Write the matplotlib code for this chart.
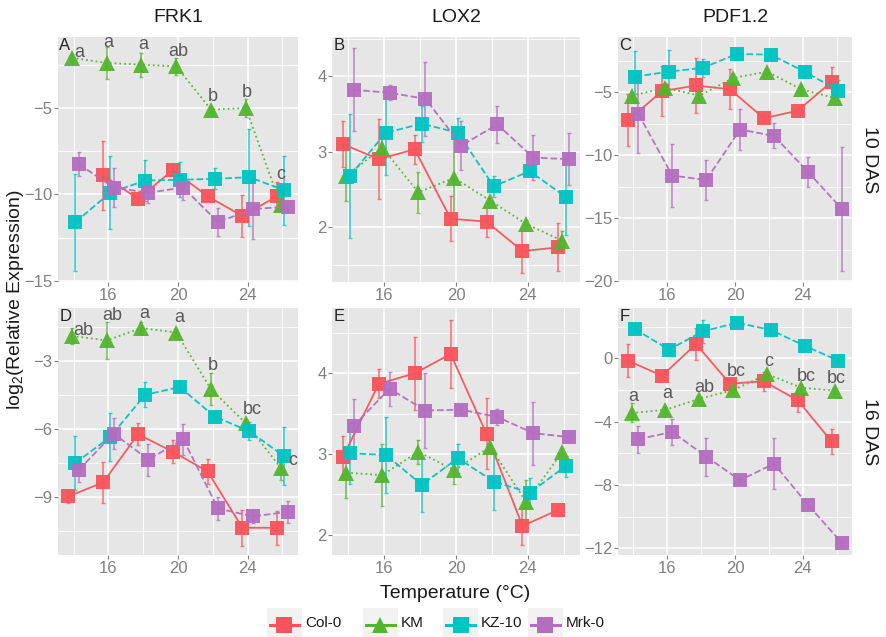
import numpy as np
import matplotlib
matplotlib.use("Agg")
import matplotlib.pyplot as plt
from matplotlib.lines import Line2D
from matplotlib.patches import Rectangle

plt.rcParams["font.family"] = ["Liberation Sans", "DejaVu Sans"]
plt.rcParams["mathtext.fontset"] = "custom"
plt.rcParams["mathtext.rm"] = "Liberation Sans"
plt.rcParams["mathtext.default"] = "rm"

nan = np.nan

temps = [14, 16, 18, 20, 22, 24, 26]
genotypes = ["Col-0", "KM", "KZ-10", "Mrk-0"]
genes = ["FRK1", "LOX2", "PDF1.2"]
stages = ["10 DAS", "16 DAS"]
panel_tags = ["A", "B", "C", "D", "E", "F"]

# means and error bars per panel, order Col-0, KM, KZ-10, Mrk-0
# A: FRK1 10 DAS
a_mean = [
    [nan, -8.9, -10.25, -8.6, -10.1, -11.25, -10.1],
    [-2.1, -2.4, -2.5, -2.6, -5.1, -5.0, -10.6],
    [-11.6, -9.9, -9.2, -9.15, -9.1, -9.0, -9.75],
    [-8.25, -9.6, -9.9, -9.6, -11.6, -10.85, -10.7],
]
a_err = [
    [nan, 2.0, 0.35, 0.3, 0.3, 1.2, 0.8],
    [0.2, 0.9, 0.7, 0.5, 0.2, 0.5, 0.3],
    [2.8, 2.1, 1.2, 1.0, 0.6, 2.8, 2.0],
    [0.7, 1.1, 0.6, 0.7, 0.8, 1.7, 0.3],
]
# B: LOX2 10 DAS
b_mean = [
    [3.1, 2.9, 3.03, 2.11, 2.07, 1.68, 1.73],
    [2.68, 3.05, 2.46, 2.65, 2.35, 2.04, 1.82],
    [2.68, 3.25, 3.37, 3.25, 2.54, 2.74, 2.4],
    [3.82, 3.78, 3.7, 3.08, 3.36, 2.92, 2.9],
]
b_err = [
    [0.3, 0.53, 0.19, 0.3, 0.2, 0.29, 0.32],
    [0.34, 0.2, 0.27, 0.53, 0.05, 0.05, 0.13],
    [0.82, 0.56, 0.24, 0.2, 0.14, 0.05, 0.5],
    [0.55, 0.1, 0.49, 0.32, 0.25, 0.3, 0.34],
]
# C: PDF1.2 10 DAS
c_mean = [
    [-7.2, -4.9, -4.45, -4.75, -7.05, -6.45, -4.15],
    [-5.25, -4.65, -5.25, -3.85, -3.35, -4.75, -5.45],
    [-3.75, -3.35, -3.05, -1.95, -2.0, -3.35, -4.85],
    [-6.7, -11.6, -11.95, -7.95, -8.45, -11.3, -14.25],
]
c_err = [
    [2.05, 2.0, 2.2, 1.6, 0.3, 0.3, 1.2],
    [0.3, 0.4, 0.3, 0.3, 0.2, 0.3, 0.2],
    [2.05, 1.7, 0.7, 0.45, 0.3, 0.3, 0.8],
    [3.1, 2.5, 1.6, 1.6, 1.0, 1.2, 4.9],
]
# D: FRK1 16 DAS
d_mean = [
    [-8.97, -8.35, -6.23, -7.0, -7.87, -10.35, -10.35],
    [-1.9, -2.1, -1.55, -1.75, -4.25, -5.75, -7.7],
    [-7.5, -6.35, -4.5, -4.15, -5.45, -6.1, -7.2],
    [-7.8, -6.2, -7.35, -6.45, -9.5, -9.85, -9.65],
]
d_err = [
    [0.3, 0.9, 0.48, 0.5, 0.55, 0.8, 0.75],
    [0.37, 0.83, 0.25, 0.15, 0.7, 0.2, 0.56],
    [1.2, 1.05, 0.55, 0.2, 0.2, 0.4, 1.27],
    [0.55, 0.7, 0.7, 0.68, 0.5, 0.3, 0.47],
]
# E: LOX2 16 DAS
e_mean = [
    [2.96, 3.87, 4.0, 4.24, 3.25, 2.11, 2.31],
    [2.77, 2.74, 3.03, 2.8, 3.09, 2.41, 3.02],
    [3.01, 2.99, 2.62, 2.95, 2.66, 2.52, 2.85],
    [3.35, 3.81, 3.54, 3.55, 3.46, 3.26, 3.21],
]
e_err = [
    [0.26, 0.18, 0.45, 0.42, 0.44, 0.24, 0.05],
    [0.32, 0.38, 0.15, 0.17, 0.05, 0.27, 0.05],
    [0.38, 0.47, 0.34, 0.18, 0.35, 0.19, 0.13],
    [0.33, 0.21, 0.47, 0.05, 0.1, 0.39, 0.05],
]
# F: PDF1.2 16 DAS
f_mean = [
    [-0.15, -1.1, 0.9, -1.6, -1.45, -2.65, -5.25],
    [-3.45, -3.25, -2.55, -2.0, -1.0, -1.85, -2.05],
    [1.85, 0.55, 1.7, 2.25, 1.8, 0.8, -0.15],
    [-5.1, -4.65, -6.2, -7.7, -6.65, -9.25, -11.65],
]
f_err = [
    [1.05, 0.2, 1.0, 0.3, 0.6, 0.75, 0.8],
    [0.6, 0.2, 0.2, 0.2, 0.2, 0.2, 0.2],
    [0.2, 0.2, 0.7, 0.2, 0.4, 0.2, 0.2],
    [0.85, 0.8, 1.2, 0.2, 1.6, 0.2, 0.2],
]

# significance letters for KM
a_letters = ["a", "a", "a", "ab", "b", "b", "c"]
a_letter_x = [14.3, 16.0, 18.0, 20.0, 22.0, 23.95, 25.9]
a_letter_y = [-1.77, -1.19, -1.36, -1.71, -4.31, -4.13, -8.87]
d_letters = ["ab", "ab", "a", "a", "b", "bc", "c"]
d_letter_x = [14.55, 16.2, 18.05, 20.1, 22.0, 24.25, 26.6]
d_letter_y = [-1.64, -0.98, -0.93, -1.08, -3.2, -5.13, -7.38]
f_letters = ["a", "a", "ab", "bc", "c", "bc", "bc"]
f_letter_x = [14.0, 16.0, 18.2, 20.05, 22.0, 24.2, 26.0]
f_letter_y = [-2.42, -2.25, -1.83, -0.84, -0.21, -1.16, -1.26]

means = [a_mean, b_mean, c_mean, d_mean, e_mean, f_mean]
errs = [a_err, b_err, c_err, d_err, e_err, f_err]
letters = {0: (a_letters, a_letter_x, a_letter_y),
           3: (d_letters, d_letter_x, d_letter_y),
           5: (f_letters, f_letter_x, f_letter_y)}

ylims = [(-15.06, -0.9), (1.27, 4.52), (-20.05, -0.6),
         (-11.55, -0.67), (1.75, 4.81), (-12.42, 3.18)]
yticks = [[-5, -10, -15], [2, 3, 4], [-5, -10, -15, -20],
          [-3, -6, -9], [2, 3, 4], [0, -4, -8, -12]]
yminor = [[-2.5, -7.5, -12.5], [1.5, 2.5, 3.5, 4.5], [-2.5, -7.5, -12.5, -17.5],
          [-1.5, -4.5, -7.5, -10.5], [2.5, 3.5, 4.5], [2, -2, -6, -10]]

colors = ["#F9545B", "#53B52E", "#00C3C3", "#B46DBF"]
markers = ["s", "^", "s", "s"]
styles = ["-", ":", "--", "--"]
dodge = [-0.3, -0.1, 0.1, 0.3]

W, H = 887, 637
fig = plt.figure(figsize=(W / 100, H / 100), dpi=100)

col_x = [(58, 298), (332, 580), (618, 852)]
row_y = [(37, 282), (308, 555)]

grey = "#808080"
for p in range(6):
    r, c = divmod(p, 3)
    x0, x1 = col_x[c]
    y0, y1 = row_y[r]
    ax = fig.add_axes([x0 / W, 1 - y1 / H, (x1 - x0) / W, (y1 - y0) / H])
    ax.set_facecolor("#E6E6E6")
    for s in ax.spines.values():
        s.set_visible(False)
    ax.set_xlim(13.1, 26.9)
    ax.set_ylim(*ylims[p])
    ax.set_xticks([16, 20, 24])
    ax.set_xticks([14, 18, 22, 26], minor=True)
    ax.set_yticks(yticks[p])
    ax.set_yticks(yminor[p], minor=True)
    ax.grid(True, which="major", color="white", lw=1.1)
    ax.grid(True, which="minor", color="white", lw=0.6)
    ax.set_axisbelow(True)
    ax.tick_params(which="major", length=3, color=grey, labelcolor=grey,
                   labelsize=12, pad=1)
    ax.tick_params(which="minor", length=0)
    for g in range(4):
        xs = np.array(temps) + dodge[g]
        ys = np.array(means[p][g], dtype=float)
        es = np.array(errs[p][g], dtype=float)
        ax.errorbar(xs, ys, yerr=es, fmt="none", ecolor=colors[g],
                    elinewidth=1.2, capsize=1.5, alpha=0.75, zorder=2)
        ax.plot(xs, ys, linestyle=styles[g], color=colors[g], lw=1.3,
                marker=markers[g], markersize=10.5 if markers[g] == "s" else 11.5,
                markeredgewidth=0, alpha=0.95, zorder=3)
    if p in letters:
        labs, lx, ly = letters[p]
        for t, xx, yy in zip(labs, lx, ly):
            ax.text(xx, yy, t, ha="center", va="center", fontsize=13,
                    color="#595959", zorder=4)
    ax.text(0.005, 0.995, panel_tags[p], transform=ax.transAxes, ha="left",
            va="top", fontsize=12, color="#222222")
    if r == 0:
        fig.text((x0 + x1) / 2 / W, 1 - 18 / H, genes[c], ha="center",
                 va="center", fontsize=14, color="#1A1A1A")
    if c == 2:
        fig.text(870 / W, 1 - (y0 + y1) / 2 / H, stages[r], ha="center",
                 va="center", rotation=-90, fontsize=14, color="#1A1A1A")

fig.text(455 / W, 1 - 593 / H, "Temperature (°C)", ha="center", va="center",
         fontsize=14, color="#1A1A1A")
fig.text(16 / W, 1 - 300 / H, r"log$_2$(Relative Expression)", ha="center",
         va="center", rotation=90, fontsize=14, color="#1A1A1A")

# legend drawn as ggplot-style keys on grey boxes
key_x = [267, 363, 443, 528]
for g in range(4):
    kx = key_x[g]
    fig.patches.append(Rectangle((kx / W, 0), 35 / W, 29 / H,
                                 transform=fig.transFigure,
                                 facecolor="#F2F2F2", edgecolor="none"))
    fig.add_artist(Line2D([(kx + 3) / W, (kx + 32) / W], [1 - 625 / H] * 2,
                          color=colors[g], lw=2.2, transform=fig.transFigure))
    fig.add_artist(Line2D([(kx + 17.5) / W], [1 - 625 / H], color=colors[g],
                          marker=markers[g], markersize=11, markeredgewidth=0,
                          transform=fig.transFigure))
    fig.text((kx + 38) / W, 1 - 623 / H, genotypes[g], ha="left", va="center",
             fontsize=11, color="#1A1A1A")

fig.savefig("out.png", dpi=100)
